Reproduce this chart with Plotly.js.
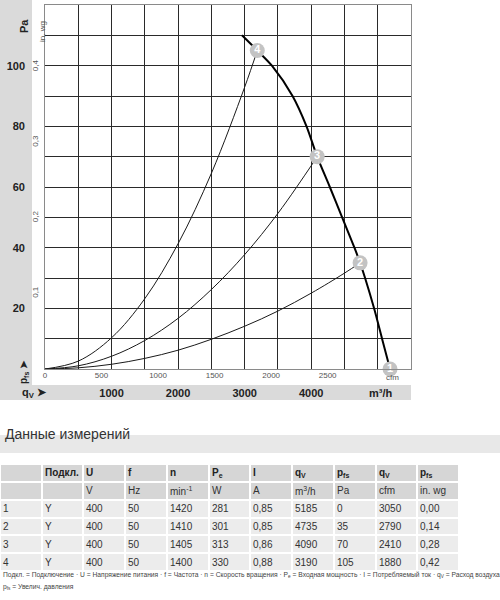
<!DOCTYPE html>
<html>
<head>
<meta charset="utf-8">
<script src="https://cdn.plot.ly/plotly-3.0.1.min.js"></script>
<style>html,body{margin:0;padding:0;background:#fff}#chart{width:500px;height:600px}</style>
</head>
<body>
<div id="chart"></div>
<script>
// ---- Data ----
const pointLabels = ['1', '2', '3', '4'];
const connection = ['Y', 'Y', 'Y', 'Y'];
const voltage = [400, 400, 400, 400];
const frequency = [50, 50, 50, 50];
const speed = [1420, 1410, 1405, 1400];
const powerIn = [281, 301, 313, 330];
const current = ['0,85', '0,85', '0,86', '0,88'];
const qvM3h = [5185, 4735, 4090, 3190];
const pfsPa = [0, 35, 70, 105];
const qvCfm = [3050, 2790, 2410, 1880];
const pfsInWg = ['0,00', '0,14', '0,28', '0,42'];

// fan characteristic (thick curve)
const fanQ = [2960, 3190, 3410, 3720, 3930, 4090, 4280, 4465, 4650, 4735, 4810, 4945, 5065, 5185];
const fanP = [110, 105, 100, 90, 80, 70, 60, 50, 40, 35, 30, 20, 10, 0];

// system curves (thin)
const sys4Q = [0, 500, 1000, 1500, 2000, 2500, 3000, 3190];
const sys4P = [0, 2.6, 10.3, 23.2, 41.3, 64.5, 92.9, 105];
const sys3Q = [0, 500, 1000, 1500, 2000, 2500, 3000, 3500, 4000, 4090];
const sys3P = [0, 1.05, 4.2, 9.4, 16.7, 26.2, 37.7, 51.3, 67, 70];
const sys2Q = [0, 500, 1000, 1500, 2000, 2500, 3000, 3500, 4000, 4500, 4735];
const sys2P = [0, 0.39, 1.56, 3.5, 6.2, 9.8, 14.1, 19.1, 25, 31.6, 35];

const m3hTicks = [1000, 2000, 3000, 4000];
const cfmTicks = [0, 500, 1000, 1500, 2000, 2500];
const paTicks = [20, 40, 60, 80, 100];
const inWgTicks = [0.1, 0.2, 0.3, 0.4];
const inWgTickText = ['0,1', '0,2', '0,3', '0,4'];

const tableTitle = 'Данные измерений';
const headerRow = ['', 'Подкл.', 'U', 'f', 'n', 'P<sub>e</sub>', 'I', 'q<sub>V</sub>', 'p<sub>fs</sub>', 'q<sub>V</sub>', 'p<sub>fs</sub>'];
const unitRow = ['', '', 'V', 'Hz', 'min<sup>-1</sup>', 'W', 'A', 'm<sup>3</sup>/h', 'Pa', 'cfm', 'in. wg'];
const footLine1 = 'Подкл. = Подключение · U = Напряжение питания · f = Частота · n = Скорость вращения · P<sub>e</sub> = Входная мощность · I = Потребляемый ток · q<sub>V</sub> = Расход воздуха';
const footLine2 = 'p<sub>fs</sub> = Увелич. давления';

// ---- scale constants ----
const M3H_PER_CFM = 1.699;
const PA_PER_INWG = 249.09;
const Q_MAX = 5500, P_MAX = 120;

// ---- geometry helpers (pixel -> paper) ----
const W = 500, H = 600;
const px = v => v / W;
const py = v => 1 - v / H;

const FONT = 'Liberation Sans, Arial, sans-serif';

const lineCol = '#1a1a1a';
const traces = [
  {x: sys4Q, y: sys4P, mode: 'lines', line: {color: lineCol, width: 1, shape: 'spline'}, hoverinfo: 'skip', showlegend: false},
  {x: sys3Q, y: sys3P, mode: 'lines', line: {color: lineCol, width: 1, shape: 'spline'}, hoverinfo: 'skip', showlegend: false},
  {x: sys2Q, y: sys2P, mode: 'lines', line: {color: lineCol, width: 1, shape: 'spline'}, hoverinfo: 'skip', showlegend: false},
  {x: fanQ, y: fanP, mode: 'lines', line: {color: '#000', width: 2, shape: 'spline', smoothing: 0.8}, hoverinfo: 'skip', showlegend: false},
  {x: qvM3h, y: pfsPa, mode: 'markers+text', text: pointLabels, textposition: 'middle center',
   textfont: {family: FONT, size: 11, color: '#fff', weight: 'bold'},
   marker: {size: 15, color: '#c3c3c3', line: {width: 0}}, cliponaxis: false, hoverinfo: 'skip', showlegend: false},
  // empty traces so that the overlaying label axes are created
  {x: [], y: [], xaxis: 'x2', yaxis: 'y', hoverinfo: 'skip', showlegend: false},
  {x: [], y: [], xaxis: 'x3', yaxis: 'y', hoverinfo: 'skip', showlegend: false},
  {x: [], y: [], xaxis: 'x', yaxis: 'y2', hoverinfo: 'skip', showlegend: false},
  {x: [], y: [], xaxis: 'x', yaxis: 'y3', hoverinfo: 'skip', showlegend: false}
];

// ---- table: cells as a gapped heatmap on its own axes, texts as annotations ----
const rowIds = pointLabels;
const cols = [rowIds, connection, voltage, frequency, speed, powerIn, current, qvM3h, pfsPa, qvCfm, pfsInWg];
const tableRows = [headerRow, unitRow].concat(rowIds.map((_, r) => cols.map(c => String(c[r]))));
const colIdx = headerRow.map((_, i) => i);
const rowIdx = tableRows.map((_, i) => i);
const rowKind = tableRows.map((_, i) => (i < 2 ? 1 : 0));   // 1 = header shade, 0 = data shade
traces.push({
  type: 'heatmap', xaxis: 'x4', yaxis: 'y4',
  x: colIdx, y: rowIdx, z: rowKind.map(k => colIdx.map(() => k)),
  zmin: 0, zmax: 1, colorscale: [[0, '#ececec'], [1, '#d6d6d6']], showscale: false,
  xgap: 2, ygap: 2, hoverinfo: 'skip'
});

const tableAnnotations = [];
tableRows.forEach((row, r) => {
  row.forEach((txt, c) => {
    if (txt === '') return;
    tableAnnotations.push({
      text: r === 0 ? '<b>' + txt + '</b>' : txt,
      xref: 'x4', yref: 'y4', x: c - 0.5, y: r, xanchor: 'left', yanchor: 'middle', xshift: 1,
      showarrow: false, font: {family: FONT, size: 10, color: r === 0 ? '#222' : '#333'}
    });
  });
});

const axBase = {showline: false, zeroline: false, ticks: '', fixedrange: true};
const layout = {
  width: W, height: H, margin: {l: 0, r: 0, t: 0, b: 0},
  paper_bgcolor: '#fff', plot_bgcolor: '#fff',
  font: {family: FONT},
  xaxis: Object.assign({}, axBase, {domain: [px(45), px(411)], range: [0, Q_MAX], dtick: 500, tick0: 0,
    showgrid: true, gridcolor: '#2a2a2a', gridwidth: 1, showticklabels: false,
    showline: true, mirror: true, linecolor: '#8a8a8a', linewidth: 1}),
  yaxis: Object.assign({}, axBase, {domain: [py(369), py(5)], range: [0, P_MAX], dtick: 10, tick0: 0,
    showgrid: true, gridcolor: '#2a2a2a', gridwidth: 1, showticklabels: false,
    showline: true, mirror: true, linecolor: '#8a8a8a', linewidth: 1}),
  xaxis2: Object.assign({}, axBase, {overlaying: 'x', anchor: 'y', side: 'bottom', range: [0, Q_MAX / M3H_PER_CFM],
    tickmode: 'array', tickvals: cfmTicks, showgrid: false, ticklabelstandoff: 0,
    tickfont: {family: FONT, size: 8, color: '#555'}}),
  xaxis3: Object.assign({}, axBase, {overlaying: 'x', anchor: 'y', side: 'bottom', range: [0, Q_MAX],
    tickmode: 'array', tickvals: m3hTicks, showgrid: false, ticklabelstandoff: 16,
    tickfont: {family: FONT, size: 11, color: '#222', weight: 'bold'}}),
  yaxis2: Object.assign({}, axBase, {overlaying: 'y', anchor: 'x', side: 'left', range: [0, P_MAX],
    tickmode: 'array', tickvals: paTicks, showgrid: false, ticklabelstandoff: 19,
    tickfont: {family: FONT, size: 11, color: '#222', weight: 'bold'}}),
  yaxis3: Object.assign({}, axBase, {overlaying: 'y', anchor: 'x', side: 'left', range: [0, P_MAX / PA_PER_INWG],
    tickmode: 'array', tickvals: inWgTicks, ticktext: inWgTickText, tickangle: -90, showgrid: false,
    ticklabelstandoff: 4, tickfont: {family: FONT, size: 8, color: '#555'}}),
  xaxis4: {domain: [0, px(459)], range: [-0.5, 10.5], anchor: 'y4', visible: false, fixedrange: true},
  yaxis4: {domain: [py(571), py(464)], range: [5.5, -0.5], anchor: 'x4', visible: false, fixedrange: true},
  shapes: [
    {type: 'rect', xref: 'paper', yref: 'paper', x0: 0, x1: px(32), y0: py(400), y1: 1, fillcolor: '#dadada', line: {width: 0}, layer: 'below'},
    {type: 'rect', xref: 'paper', yref: 'paper', x0: 0, x1: px(411), y0: py(400), y1: py(385), fillcolor: '#dadada', line: {width: 0}, layer: 'below'},
    {type: 'rect', xref: 'paper', yref: 'paper', x0: 0, x1: 1, y0: py(453), y1: py(435), fillcolor: '#e8e8e8', line: {width: 0}, layer: 'below'}
  ],
  annotations: [
    {text: '<b>Pa</b>', xref: 'paper', yref: 'paper', x: px(16), y: py(17), textangle: -90, showarrow: false,
     font: {family: FONT, size: 11, color: '#222'}},
    {text: 'in. wg', xref: 'paper', yref: 'paper', x: px(36), y: py(19), textangle: -90, showarrow: false,
     font: {family: FONT, size: 8, color: '#555'}},
    {text: '<b>p<sub>fs</sub> ➤</b>', xref: 'paper', yref: 'paper', x: px(16), y: py(372), textangle: -90, showarrow: false,
     font: {family: FONT, size: 10, color: '#222'}},
    {text: '<b>q<sub>V</sub> ➤</b>', xref: 'paper', yref: 'paper', x: px(20), y: py(393), showarrow: false,
     font: {family: FONT, size: 11, color: '#222'}},
    {text: '<b>m³/h</b>', xref: 'paper', yref: 'paper', x: px(395), y: py(393), showarrow: false,
     font: {family: FONT, size: 11, color: '#222'}},
    {text: 'cfm', xref: 'paper', yref: 'paper', x: px(401), y: py(377), showarrow: false,
     font: {family: FONT, size: 8, color: '#555'}},
    {text: tableTitle, xref: 'paper', yref: 'paper', x: px(3), y: py(444), xanchor: 'left', showarrow: false,
     font: {family: FONT, size: 14, color: '#333'}},
    {text: footLine1, xref: 'paper', yref: 'paper', x: px(1), y: py(581), xanchor: 'left', showarrow: false,
     font: {family: FONT, size: 6.7, color: '#444'}},
    {text: footLine2, xref: 'paper', yref: 'paper', x: px(1), y: py(593), xanchor: 'left', showarrow: false,
     font: {family: FONT, size: 6.7, color: '#444'}}
  ].concat(tableAnnotations)
};

Plotly.newPlot('chart', traces, layout, {staticPlot: true, displayModeBar: false});
</script>
</body>
</html>
